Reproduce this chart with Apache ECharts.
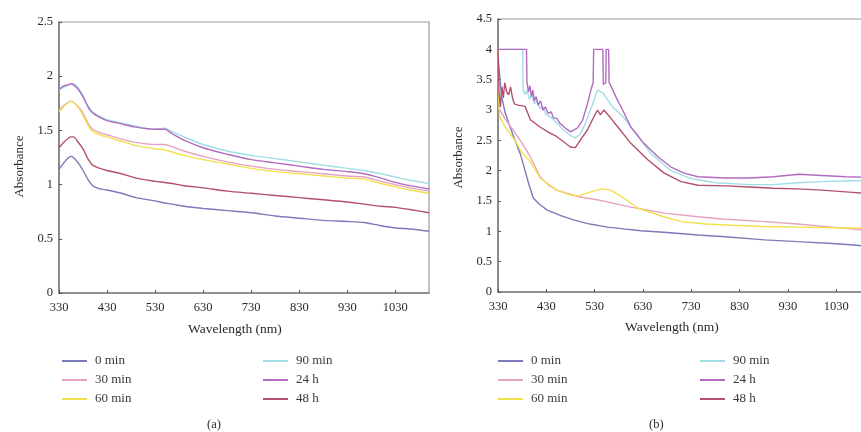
<!DOCTYPE html>
<html>
<head>
<meta charset="utf-8">
<script src="https://cdn.jsdelivr.net/npm/echarts@6/dist/echarts.min.js"></script>
<style>
  html, body { margin: 0; padding: 0; background: #fff; overflow: hidden; }
  #wrap { width: 861px; height: 432px; overflow: hidden; }
  /* the right panel's frame runs just past the page edge */
  #chart { width: 880px; height: 432px; }
</style>
</head>
<body>
<div id="wrap"><div id="chart"></div></div>
<script>
// ---- Panel (a): absorbance spectra on a shared wavelength grid ----
const wlA = [330, 340, 350, 355, 360, 370, 380, 390, 400, 415, 430, 460, 490, 530, 550, 565, 590, 630, 680, 730, 780, 830, 880, 930, 965, 1000, 1030, 1060, 1100];
const a0min  = [1.14, 1.20, 1.25, 1.26, 1.25, 1.20, 1.13, 1.05, 0.99, 0.96, 0.95, 0.92, 0.88, 0.85, 0.83, 0.82, 0.80, 0.78, 0.76, 0.74, 0.71, 0.69, 0.67, 0.66, 0.65, 0.62, 0.60, 0.59, 0.57];
const a30min = [1.69, 1.73, 1.76, 1.77, 1.76, 1.72, 1.66, 1.57, 1.51, 1.48, 1.46, 1.42, 1.39, 1.37, 1.37, 1.35, 1.31, 1.26, 1.21, 1.17, 1.14, 1.12, 1.10, 1.08, 1.07, 1.03, 1.00, 0.97, 0.94];
const a60min = [1.67, 1.72, 1.76, 1.77, 1.76, 1.71, 1.64, 1.55, 1.49, 1.46, 1.44, 1.40, 1.36, 1.33, 1.32, 1.30, 1.27, 1.23, 1.19, 1.15, 1.12, 1.10, 1.08, 1.06, 1.05, 1.01, 0.98, 0.95, 0.92];
const a90min = [1.87, 1.90, 1.92, 1.93, 1.93, 1.89, 1.82, 1.73, 1.67, 1.63, 1.60, 1.57, 1.54, 1.51, 1.52, 1.49, 1.44, 1.37, 1.31, 1.27, 1.24, 1.21, 1.18, 1.15, 1.13, 1.10, 1.07, 1.04, 1.01];
const a24h   = [1.88, 1.91, 1.92, 1.93, 1.92, 1.88, 1.81, 1.72, 1.66, 1.62, 1.59, 1.56, 1.53, 1.51, 1.51, 1.47, 1.41, 1.34, 1.28, 1.23, 1.20, 1.17, 1.14, 1.12, 1.10, 1.06, 1.02, 0.99, 0.96];
const a48h   = [1.34, 1.39, 1.43, 1.44, 1.44, 1.39, 1.33, 1.24, 1.18, 1.15, 1.13, 1.10, 1.06, 1.03, 1.02, 1.01, 0.99, 0.97, 0.94, 0.92, 0.90, 0.88, 0.86, 0.84, 0.82, 0.80, 0.79, 0.77, 0.74];

// ---- Panel (b): each spectrum has its own sampling (detector saturates at 4) ----
const b0minWl  = [330, 333, 338, 345, 355, 365, 376, 386, 393, 403, 415, 432, 460, 486, 520, 557, 590, 626, 680, 744, 800, 882, 950, 1022, 1060, 1100];
const b0minAbs = [3.9, 3.6, 3.2, 2.95, 2.72, 2.5, 2.28, 2.0, 1.8, 1.55, 1.45, 1.35, 1.26, 1.19, 1.12, 1.07, 1.04, 1.01, 0.98, 0.94, 0.91, 0.86, 0.83, 0.80, 0.78, 0.75];

const b30minWl  = [330, 345, 361, 380, 397, 417, 435, 452, 475, 497, 535, 570, 605, 640, 674, 744, 800, 882, 950, 1022, 1060, 1100];
const b30minAbs = [3.05, 2.85, 2.67, 2.45, 2.23, 1.9, 1.76, 1.68, 1.62, 1.57, 1.52, 1.46, 1.40, 1.35, 1.30, 1.24, 1.20, 1.16, 1.12, 1.07, 1.04, 1.01];

const b60minWl  = [330, 331, 333, 345, 365, 380, 397, 417, 452, 480, 497, 510, 522, 543, 563, 590, 620, 661, 709, 760, 813, 880, 953, 1022, 1100];
const b60minAbs = [4.0, 3.4, 2.9, 2.72, 2.5, 2.29, 2.15, 1.88, 1.68, 1.6, 1.58, 1.62, 1.65, 1.7, 1.68, 1.55, 1.38, 1.27, 1.16, 1.12, 1.10, 1.08, 1.07, 1.06, 1.05];

const b90minWl  = [330, 381, 382, 386, 390, 395, 400, 405, 410, 417, 422, 430, 440, 450, 465, 480, 490, 500, 511, 520, 526, 536, 547, 567, 590, 620, 647, 688, 730, 780, 850, 900, 950, 1000, 1050, 1100];
const b90minAbs = [4.0, 4.0, 3.35, 3.25, 3.32, 3.18, 3.25, 3.1, 3.15, 3.02, 3.06, 2.92, 2.88, 2.8, 2.68, 2.58, 2.54, 2.6, 2.78, 2.98, 3.1, 3.33, 3.28, 3.05, 2.88, 2.56, 2.28, 2.0, 1.87, 1.8, 1.77, 1.77, 1.80, 1.82, 1.83, 1.84];

const b24hWl  = [330, 389, 390, 393, 396, 399, 402, 405, 409, 413, 418, 423, 428, 434, 440, 445, 452, 458, 463, 470, 480, 494, 505, 515, 524, 527, 528, 547, 548, 553, 554, 559, 560, 563, 575, 588, 605, 632, 661, 688, 715, 744, 800, 850, 900, 953, 1000, 1050, 1100];
const b24hAbs = [4.0, 4.0, 3.46, 3.3, 3.4, 3.22, 3.33, 3.15, 3.22, 3.08, 3.15, 3.0, 3.05, 2.94, 2.97, 2.87, 2.86, 2.78, 2.75, 2.7, 2.64, 2.7, 2.83, 3.1, 3.38, 3.45, 4.0, 4.0, 3.42, 3.45, 4.0, 4.0, 3.45, 3.41, 3.2, 3.0, 2.72, 2.45, 2.23, 2.06, 1.96, 1.90, 1.88, 1.88, 1.90, 1.94, 1.92, 1.90, 1.89];

const b48hWl  = [330, 332, 335, 338, 341, 344, 348, 352, 356, 360, 364, 371, 386, 397, 417, 435, 452, 465, 480, 490, 500, 515, 528, 536, 542, 549, 560, 578, 605, 640, 674, 709, 744, 800, 850, 900, 950, 1000, 1050, 1100];
const b48hAbs = [4.0, 3.3, 3.05, 3.38, 3.2, 3.45, 3.3, 3.25, 3.38, 3.2, 3.1, 3.08, 3.06, 2.84, 2.72, 2.63, 2.56, 2.48, 2.39, 2.38, 2.5, 2.67, 2.88, 3.0, 2.92, 3.0, 2.9, 2.72, 2.45, 2.18, 1.96, 1.82, 1.76, 1.75, 1.73, 1.71, 1.70, 1.68, 1.65, 1.62];

// ---- Series names and colours ----
const names  = ['0 min', '30 min', '60 min', '90 min', '24 h', '48 h'];
const colors = ['#7b7bbb', '#e6a2c2', '#f2e04c', '#a2dde6', '#b26bc0', '#b4506c'];

const FONT = '"Liberation Serif", "DejaVu Serif", serif';
const TEXT = '#2a2a2a';
const zip = (xs, ys) => xs.map((x, i) => [x, ys[i]]);

const panelA = [a0min, a30min, a60min, a90min, a24h, a48h].map(v => zip(wlA, v));
const panelB = [
  zip(b0minWl, b0minAbs), zip(b30minWl, b30minAbs), zip(b60minWl, b60minAbs),
  zip(b90minWl, b90minAbs), zip(b24hWl, b24hAbs), zip(b48hWl, b48hAbs)
];

function xAxisFor(gridIndex) {
  return {
    type: 'value', gridIndex, min: 330, max: 1100, interval: 100,
    axisLine: { lineStyle: { color: '#7d7d7d', width: 1.6 } },
    axisTick: { inside: true, length: 3, lineStyle: { color: '#555' } },
    axisLabel: {
      color: TEXT, fontFamily: FONT, fontSize: 12.5, margin: 8, showMaxLabel: false,
      formatter: v => String(v)
    },
    splitLine: { show: false }
  };
}
function yAxisFor(gridIndex, max, namePad) {
  return {
    type: 'value', gridIndex, min: 0, max, interval: 0.5,
    name: 'Absorbance', nameLocation: 'middle', nameGap: 33,
    nameTextStyle: { color: TEXT, fontFamily: FONT, fontSize: 13, padding: namePad },
    axisLine: { show: true, lineStyle: { color: '#7d7d7d', width: 1.6 } },
    axisTick: { show: true, inside: true, length: 3, lineStyle: { color: '#555' } },
    axisLabel: { color: TEXT, fontFamily: FONT, fontSize: 12.5, margin: 6, formatter: v => String(v) },
    splitLine: { show: false }
  };
}

const series = [];
[panelA, panelB].forEach((panel, g) => {
  panel.forEach((data, i) => {
    series.push({
      name: names[i], type: 'line', xAxisIndex: g, yAxisIndex: g,
      data, showSymbol: false, symbol: 'none', smooth: g === 0 ? 0.3 : false,
      itemStyle: { color: colors[i] },
      lineStyle: { color: colors[i], width: 1.4 },
      z: 2 + i
    });
  });
});

function legendAt(left, data) {
  return {
    data, left, top: 354, orient: 'vertical', icon: 'rect', padding: 0,
    itemWidth: 25, itemHeight: 2, itemGap: 5,
    textStyle: { color: '#3a3a3a', fontFamily: FONT, fontSize: 13, lineHeight: 14, padding: [0, 0, 0, 3] },
    selectedMode: false
  };
}

const option = {
  animation: false,
  backgroundColor: '#fff',
  grid: [
    { left: 59, top: 22, width: 370, height: 271, show: true, borderColor: '#9a9a9a', borderWidth: 1.2 },
    { left: 498, top: 19, width: 372, height: 273, show: true, borderColor: '#9a9a9a', borderWidth: 1.2 }
  ],
  xAxis: [xAxisFor(0), xAxisFor(1)],
  yAxis: [yAxisFor(0, 2.5, [0, 18, 0, 0]), yAxisFor(1, 4.5, [0, 4, 0, 0])],
  legend: [
    legendAt(62, names.slice(0, 3)),
    legendAt(263, names.slice(3)),
    legendAt(498, names.slice(0, 3)),
    legendAt(700, names.slice(3))
  ],
  graphic: [
    { type: 'text', left: 188, top: 322, style: { text: 'Wavelength (nm)', font: '13.5px ' + FONT, fill: TEXT } },
    { type: 'text', left: 625, top: 320, style: { text: 'Wavelength (nm)', font: '13.5px ' + FONT, fill: TEXT } },
    { type: 'text', left: 207, top: 418, style: { text: '(a)', font: '12.5px ' + FONT, fill: TEXT } },
    { type: 'text', left: 649, top: 418, style: { text: '(b)', font: '12.5px ' + FONT, fill: TEXT } }
  ],
  series
};

const chart = echarts.init(document.getElementById('chart'), null, { renderer: 'canvas' });
chart.setOption(option);
</script>
</body>
</html>
